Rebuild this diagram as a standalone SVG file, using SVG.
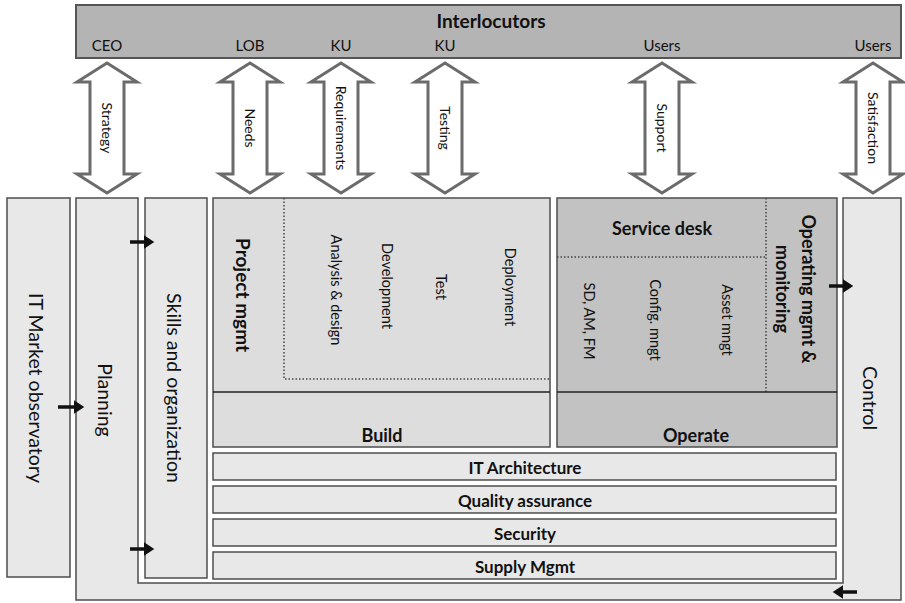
<svg xmlns="http://www.w3.org/2000/svg" width="905" height="603" viewBox="0 0 905 603">
  <style>
    .box { fill: #e8e8e8; stroke: #4d4d4d; stroke-width: 1.5; }
    .build { fill: #dddddd; stroke: #4d4d4d; stroke-width: 1.5; }
    .operate { fill: #c2c2c2; stroke: #4d4d4d; stroke-width: 1.5; }
    .bar { fill: #b4b4b4; stroke: #555555; stroke-width: 2; }
    .sep { stroke: #222222; stroke-width: 1.5; fill: none; }
    .dot { stroke: #444444; stroke-width: 1.5; stroke-dasharray: 1.5 2; fill: none; }
    .dbl { fill: #ffffff; stroke: #6b6b6b; stroke-width: 3; stroke-linejoin: miter; }
    .flow { stroke: #111111; stroke-width: 3.5; fill: none; marker-end: url(#head); }
    text { font-family: Lato, "Open Sans", "Liberation Sans", sans-serif; fill: #111111; }
    .t { font-size: 15px; text-anchor: middle; }
    .lbl { font-size: 14px; text-anchor: middle; dominant-baseline: central; }
    .v { font-size: 19.5px; text-anchor: middle; dominant-baseline: central; }
    .vs { font-size: 14.5px; text-anchor: middle; dominant-baseline: central; }
    .b { font-weight: bold; text-anchor: middle; dominant-baseline: central; }
  </style>
  <defs>
    <!-- two-headed block arrow, centred on x = 0 -->
    <path id="dbl" class="dbl" d="M0,63 L30,82 L17,82 L17,174 L30,174 L0,193 L-30,174 L-17,174 L-17,82 L-30,82 Z"/>
    <marker id="head" markerWidth="4" markerHeight="4" refX="1.2" refY="2" orient="auto" markerUnits="strokeWidth">
      <path d="M0,0 L3,2 L0,4 Z" fill="#111111"/>
    </marker>
  </defs>

  <!-- top bar -->
  <g id="interlocutors">
    <rect class="bar" x="76" y="5" width="825" height="53"/>
    <text class="b" x="491" y="20" font-size="19">Interlocutors</text>
    <text class="t" x="107" y="51">CEO</text>
    <text class="t" x="250" y="51">LOB</text>
    <text class="t" x="341" y="51">KU</text>
    <text class="t" x="445" y="51">KU</text>
    <text class="t" x="662" y="51">Users</text>
    <text class="t" x="873" y="51">Users</text>
  </g>

  <g id="it-market">
    <rect class="box" x="7" y="198" width="63" height="379"/>
    <text class="v" transform="translate(36,388) rotate(90)">IT Market observatory</text>
  </g>

  <!-- planning column, bottom strip and control column form one frame -->
  <g id="planning">
    <path class="box" d="M76,198 H138 V583 H843 V198 H901 V600 H76 Z"/>
    <text class="v" transform="translate(105,400) rotate(90)">Planning</text>
  </g>
  <g id="control">
    <text class="v" transform="translate(870,398) rotate(90)">Control</text>
  </g>

  <g id="skills">
    <rect class="box" x="145" y="198" width="62" height="380"/>
    <text class="v" transform="translate(174,388) rotate(90)">Skills and organization</text>
  </g>

  <g id="build">
    <rect class="build" x="213" y="198" width="337" height="249"/>
    <path class="dot" d="M284,198 V379 H550"/>
    <path class="sep" d="M213,392 H550"/>
    <text class="b" font-size="19" transform="translate(243,295) rotate(90)">Project mgmt</text>
    <text class="vs" transform="translate(336,290) rotate(90)">Analysis &amp; design</text>
    <text class="vs" transform="translate(387,286) rotate(90)">Development</text>
    <text class="vs" transform="translate(441,287) rotate(90)">Test</text>
    <text class="vs" transform="translate(510,287) rotate(90)">Deployment</text>
    <text class="b" font-size="18" x="382" y="435">Build</text>
  </g>

  <g id="operate">
    <rect class="operate" x="557" y="198" width="280" height="249"/>
    <path class="dot" d="M766,198 V392 M557,257 H766"/>
    <path class="sep" d="M557,392 H837"/>
    <text class="b" font-size="18" x="662" y="228">Service desk</text>
    <text class="vs" transform="translate(589,321) rotate(90)">SD, AM, FM</text>
    <text class="vs" transform="translate(655,320) rotate(90)">Config. mngt</text>
    <text class="vs" transform="translate(727,320) rotate(90)">Asset mngt</text>
    <text class="b" font-size="18" transform="translate(809,289) rotate(90)">Operating mgmt &amp;</text>
    <text class="b" font-size="18" transform="translate(783,289) rotate(90)">monitoring</text>
    <text class="b" font-size="18" x="696" y="435">Operate</text>
  </g>

  <g id="it-architecture">
    <rect class="box" x="213" y="453" width="623" height="27"/>
    <text class="b" font-size="17" x="525" y="467">IT Architecture</text>
  </g>
  <g id="quality-assurance">
    <rect class="box" x="213" y="486" width="623" height="27"/>
    <text class="b" font-size="17" x="525" y="500">Quality assurance</text>
  </g>
  <g id="security">
    <rect class="box" x="213" y="519" width="623" height="27"/>
    <text class="b" font-size="17" x="525" y="533">Security</text>
  </g>
  <g id="supply-mgmt">
    <rect class="box" x="213" y="552" width="623" height="27"/>
    <text class="b" font-size="17" x="525" y="566">Supply Mgmt</text>
  </g>

  <g id="connectors">
    <!-- exchanges with the interlocutors -->
    <use href="#dbl" x="107"/>
    <use href="#dbl" x="250"/>
    <use href="#dbl" x="341"/>
    <use href="#dbl" x="445"/>
    <use href="#dbl" x="662"/>
    <use href="#dbl" x="873"/>
    <text class="lbl" transform="translate(107,128) rotate(90)">Strategy</text>
    <text class="lbl" transform="translate(250,128) rotate(90)">Needs</text>
    <text class="lbl" transform="translate(341,128) rotate(90)" font-size="12.8">Requirements</text>
    <text class="lbl" transform="translate(445,128) rotate(90)">Testing</text>
    <text class="lbl" transform="translate(662,128) rotate(90)">Support</text>
    <text class="lbl" transform="translate(873,128) rotate(90)">Satisfaction</text>

    <!-- internal flows -->
    <path class="flow" d="M58,407 H78"/>
    <path class="flow" d="M130,242 H148"/>
    <path class="flow" d="M130,549 H148"/>
    <path class="flow" d="M829,286 H847"/>
    <path class="flow" d="M857,592 H839"/>
  </g>
</svg>
